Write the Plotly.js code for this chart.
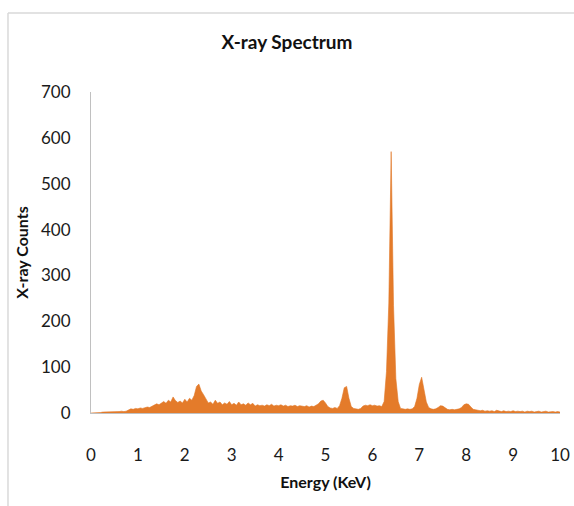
<!DOCTYPE html>
<html>
<head>
<meta charset="utf-8">
<script src="https://cdn.plot.ly/plotly-3.0.1.min.js"></script>
<style>html,body{margin:0;padding:0;background:#fff;}#chart{width:574px;height:506px;}</style>
</head>
<body>
<div id="chart"></div>
<script>
const energy = [
0.00,0.05,0.10,0.15,0.20,0.25,0.30,0.35,0.40,0.45,0.50,0.55,0.60,0.65,0.70,0.75,
0.80,0.85,0.90,0.95,1.00,1.05,1.10,1.15,1.20,1.25,1.30,1.35,1.40,1.45,1.50,1.55,
1.60,1.65,1.70,1.75,1.80,1.85,1.90,1.95,2.00,2.05,2.10,2.15,2.20,2.25,2.30,2.35,
2.40,2.45,2.50,2.55,2.60,2.65,2.70,2.75,2.80,2.85,2.90,2.95,3.00,3.05,3.10,3.15,
3.20,3.25,3.30,3.35,3.40,3.45,3.50,3.55,3.60,3.65,3.70,3.75,3.80,3.85,3.90,3.95,
4.00,4.05,4.10,4.15,4.20,4.25,4.30,4.35,4.40,4.45,4.50,4.55,4.60,4.65,4.70,4.75,
4.80,4.85,4.90,4.95,5.00,5.05,5.10,5.15,5.20,5.25,5.30,5.35,5.40,5.45,5.50,5.55,
5.60,5.65,5.70,5.75,5.80,5.85,5.90,5.95,6.00,6.05,6.10,6.15,6.20,6.25,6.30,6.35,
6.40,6.45,6.50,6.55,6.60,6.65,6.70,6.75,6.80,6.85,6.90,6.95,7.00,7.05,7.10,7.15,
7.20,7.25,7.30,7.35,7.40,7.45,7.50,7.55,7.60,7.65,7.70,7.75,7.80,7.85,7.90,7.95,
8.00,8.05,8.10,8.15,8.20,8.25,8.30,8.35,8.40,8.45,8.50,8.55,8.60,8.65,8.70,8.75,
8.80,8.85,8.90,8.95,9.00,9.05,9.10,9.15,9.20,9.25,9.30,9.35,9.40,9.45,9.50,9.55,
9.60,9.65,9.70,9.75,9.80,9.85,9.90,9.95,10.00
];
const counts = [
0,0,0,1,1,2,2,2,3,2,3,3,3,4,3,4,
6,9,8,10,9,11,10,12,13,12,15,17,20,18,22,25,
21,28,24,35,27,23,26,22,30,24,32,28,38,58,63,48,
40,30,22,24,19,28,21,24,18,22,19,25,18,21,17,24,
18,20,17,22,18,21,15,18,16,17,15,18,16,19,15,17,
16,18,15,17,14,16,15,17,14,16,15,14,16,13,15,14,
17,20,26,28,22,14,11,10,12,10,16,32,55,58,32,14,
10,9,8,10,15,17,16,18,16,17,15,16,14,25,90,240,
570,235,75,25,10,9,8,9,8,9,14,32,62,78,52,24,
12,9,8,9,12,16,15,11,8,7,8,7,8,9,12,18,
20,19,13,8,7,6,5,6,4,5,4,5,3,6,4,3,
5,3,4,3,5,3,4,3,4,2,4,3,4,2,3,4,
2,3,4,2,3,3,2,3,2
];
const xTicks = [0,1,2,3,4,5,6,7,8,9,10];
const yTicks = [0,100,200,300,400,500,600,700];

const fontFam = 'Lato, "Open Sans", sans-serif';
const trace = {
  x: energy, y: counts, type: 'scatter', mode: 'lines',
  fill: 'tozeroy', fillcolor: '#E47B2A',
  line: {color: '#E07726', width: 0.6, shape: 'linear'},
  hoverinfo: 'x+y'
};
const layout = {
  width: 574, height: 506,
  margin: {l: 91, r: 14, t: 92, b: 93},
  paper_bgcolor: '#fff', plot_bgcolor: '#fff',
  showlegend: false,
  title: {text: '<b>X-ray Spectrum</b>', x: 0.5, xanchor: 'center', y: 0.917, yanchor: 'middle',
          font: {family: fontFam, size: 19, color: '#111'}},
  xaxis: {
    range: [0, 10], tickvals: xTicks, ticktext: xTicks.map(String),
    showgrid: false, zeroline: false, showline: true, linecolor: '#c0c0c0', linewidth: 1,
    ticks: '', ticklabelstandoff: 27,
    tickfont: {family: fontFam, size: 17, color: '#1a1a1a'},
    title: {text: '<b>Energy (KeV)</b>', standoff: 12, font: {family: fontFam, size: 16, color: '#111'}}
  },
  yaxis: {
    range: [0, 700], tickvals: yTicks, ticktext: yTicks.map(String),
    showgrid: false, zeroline: false, showline: true, linecolor: '#c0c0c0', linewidth: 1,
    ticks: '', ticklabelstandoff: 16,
    tickfont: {family: fontFam, size: 17, color: '#1a1a1a'},
    title: {text: '<b>X-ray Counts</b>', standoff: 8, font: {family: fontFam, size: 16, color: '#111'}}
  },
  shapes: [
    {type: 'line', xref: 'paper', yref: 'paper', x0: -0.177, x1: -0.177, y0: 1.246, y1: -0.3,
     line: {color: '#d9d9d9', width: 1.5}, layer: 'below'},
    {type: 'line', xref: 'paper', yref: 'paper', x0: -0.177, x1: 1.1, y0: 1.246, y1: 1.246,
     line: {color: '#d9d9d9', width: 1.5}, layer: 'below'}
  ]
};
Plotly.newPlot('chart', [trace], layout, {displayModeBar: false, staticPlot: true});
</script>
</body>
</html>
